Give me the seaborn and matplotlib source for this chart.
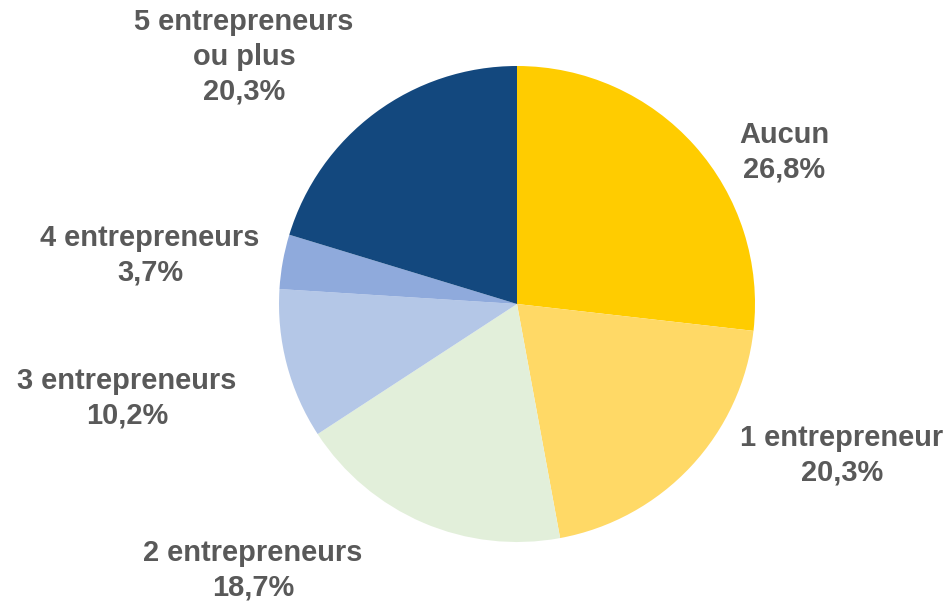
import matplotlib
matplotlib.use("Agg")
import matplotlib.pyplot as plt
import seaborn as sns

# Part des répondants selon le nombre d'entrepreneurs dans l'entourage
categories = ["Aucun", "1 entrepreneur", "2 entrepreneurs", "3 entrepreneurs",
              "4 entrepreneurs", "5 entrepreneurs\nou plus"]
shares = [26.8, 20.3, 18.7, 10.2, 3.7, 20.3]
colors = ["#FFCC00", "#FFD966", "#E2EFDA", "#B4C7E7", "#8FAADC", "#13487E"]

# label centres, in units of the pie radius
label_pos = [(1.122, 0.639), (1.366, -0.634), (-1.109, -1.118),
             (-1.639, -0.395), (-1.542, 0.206), (-1.147, 1.038)]

sns.set_theme(style="white")
plt.rcParams["font.family"] = ["Liberation Sans", "DejaVu Sans"]

fig = plt.figure(figsize=(9.51, 6.04), dpi=100)
ax = fig.add_axes([0, 0, 1, 1])

ax.pie(shares, colors=sns.color_palette(colors), startangle=90,
       counterclock=False, radius=1.0,
       wedgeprops=dict(linewidth=0))

for name, val, (x, y) in zip(categories, shares, label_pos):
    txt = f"{name}\n{val:.1f}%".replace(".", ",")
    ax.text(x, y, txt, ha="center", va="center", fontsize=20.9,
            fontweight="bold", color="#595959", linespacing=1.3)

ax.set_xlim(-517 / 238, (951 - 517) / 238)
ax.set_ylim(-(604 - 304) / 238, 304 / 238)
ax.set_aspect("equal")
ax.axis("off")

fig.savefig("out.png", dpi=100, facecolor="white")
